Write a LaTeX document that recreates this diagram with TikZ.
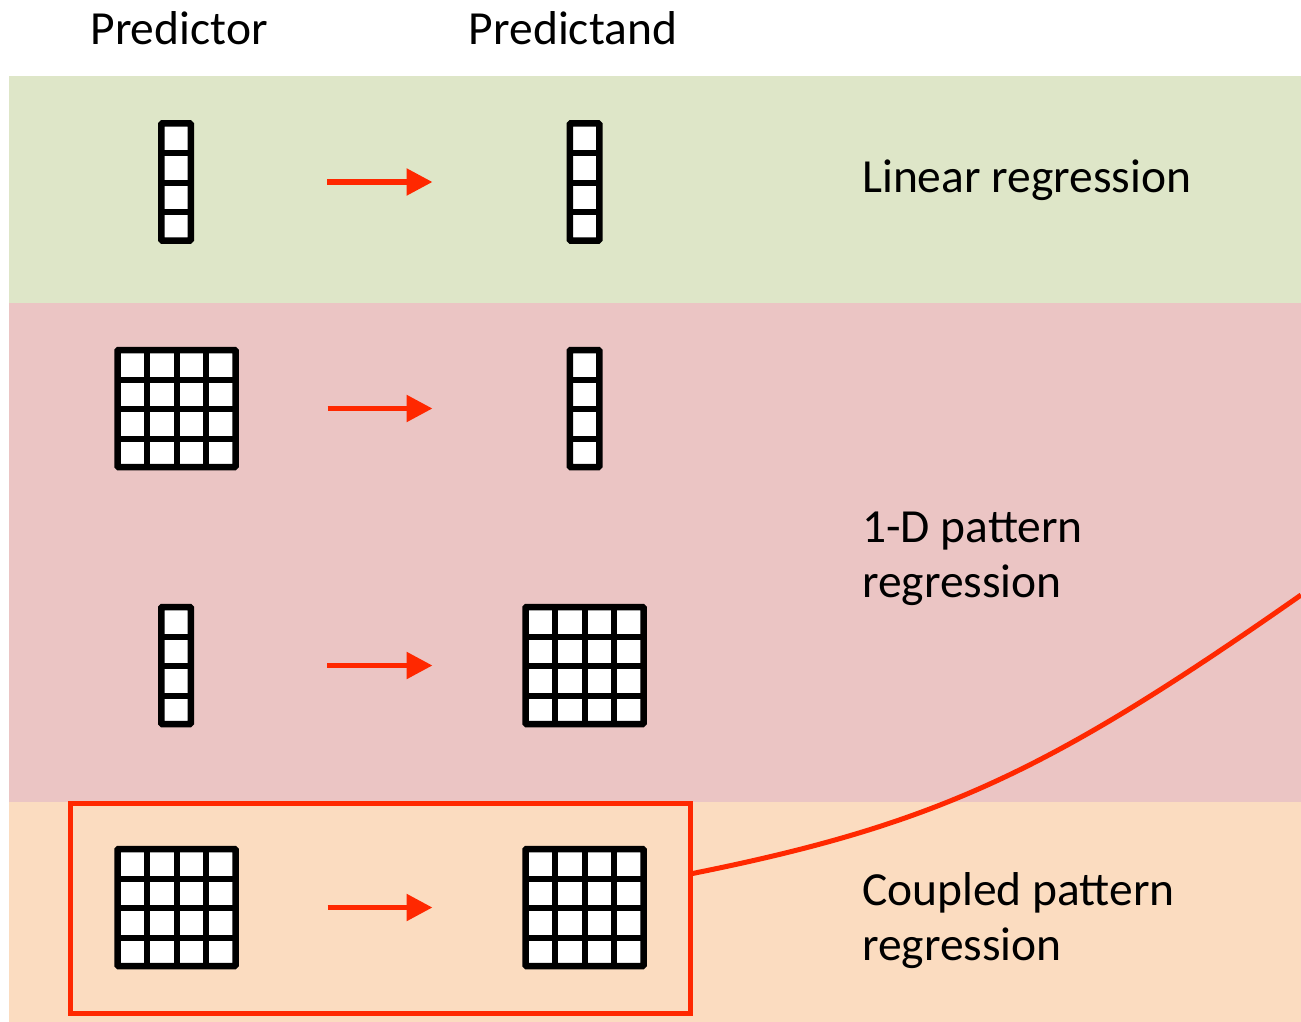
\documentclass[tikz,border=0pt]{standalone}
\usepackage{fontspec}
\setmainfont{Carlito}
\usetikzlibrary{arrows.meta}

\definecolor{bandgreen}{RGB}{222,230,200}
\definecolor{bandpink}{RGB}{235,197,196}
\definecolor{bandorange}{RGB}{251,220,192}
\definecolor{linkred}{RGB}{255,40,0}

% block of 4 rows and #4 columns of cells, named #1, centred at (#2,#3)
\newcommand{\cellblock}[4]{%
	\node[cellbox, minimum width=#4*29.5pt] (#1) at (#2,#3) {};
	\foreach \k in {1,2,3}
		\draw[cellline] (#1.north west) ++(0,\k*29.5) -- ++(#4*29.5,0);
	\ifnum#4>1
		\foreach \k in {1,2,3}
			\draw[cellline] (#1.north west) ++(\k*29.5,0) -- ++(0,118);
	\fi
}

\begin{document}
\begin{tikzpicture}[
			x=1pt, y=-1pt,
			cellbox/.style={draw=black, fill=white, line width=6.5pt,
			rounded corners=1pt, inner sep=0pt, outer sep=0pt, minimum height=117pt},
			cellline/.style={draw=black, line width=6pt},
			flow/.style={-{Triangle[length=26pt,width=26pt]}, draw=linkred,
			line width=5.5pt, shorten <=151pt, shorten >=152pt},
			pairframe/.style={draw=linkred, line width=5pt, inner sep=0pt, outer sep=0pt,
			minimum width=620pt, minimum height=210pt},
			curvelink/.style={draw=linkred, line width=5pt},
			headtext/.style={font=\fontsize{47.5}{56}\selectfont, anchor=base},
			kindtext/.style={font=\fontsize{47.5}{55}\selectfont, anchor=base west, align=left,
			inner sep=0pt}
			]
			\useasboundingbox (0,0) rectangle (1301,1022);
			% background bands
			\fill[bandgreen] (9,76) rectangle (1301,303);
			\fill[bandpink] (9,303) rectangle (1301,802);
			\fill[bandorange] (9,802) rectangle (1301,1022);

			\node[headtext] (predictor) at (179,45) {Predictor};
			\node[headtext] (predictand) at (573,45) {Predictand};

			\cellblock{p1}{176}{182}{1}
			\cellblock{q1}{584.5}{182}{1}
			\cellblock{p2}{176.5}{408.5}{4}
			\cellblock{q2}{584.5}{408.5}{1}
			\cellblock{p3}{176}{665.5}{1}
			\cellblock{q3}{584.5}{665.5}{4}
			\cellblock{p4}{176.5}{907.5}{4}
			\cellblock{q4}{584.5}{907.5}{4}

			\foreach \r in {1,...,4}
				\draw[flow] (p\r.center) -- (q\r.center);

			% base anchor sits on the last line
			\node[kindtext] (linear) at (862,193) {Linear regression};
			\node[kindtext] (onedim) at (862,597) {1-D pattern\\regression};
			\node[kindtext] (coupled) at (862,960) {Coupled pattern\\regression};

			% highlight of the last row
			\node[pairframe] (pair) at (380,908) {};
			\coordinate (tap) at ([yshift=34pt]pair.east);
			\coordinate (edge) at (1301,595);
			\draw[curvelink] (tap) .. controls (940,824) and (1051,770) .. (edge);
		\end{tikzpicture}
\end{document}
